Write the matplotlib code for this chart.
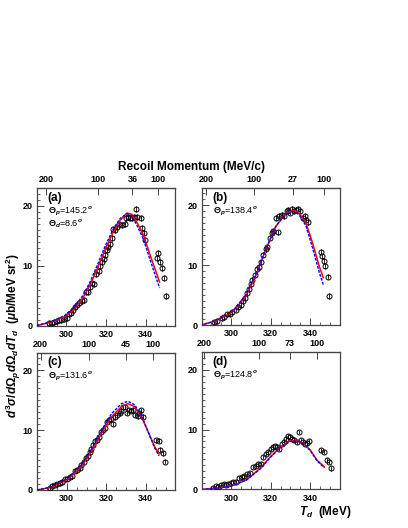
import matplotlib
matplotlib.use("Agg")
import matplotlib.pyplot as plt
from matplotlib.ticker import MultipleLocator

plt.rcParams['font.family'] = ['Liberation Sans', 'DejaVu Sans']
plt.rcParams['mathtext.fontset'] = 'custom'
plt.rcParams['mathtext.rm'] = 'Liberation Sans:bold'
plt.rcParams['mathtext.it'] = 'Liberation Sans:italic:bold'
plt.rcParams['mathtext.bf'] = 'Liberation Sans:bold'

# ---- data ----
# panel (a)
a_T = [291.4, 292.6, 293.9, 295.1, 296.3, 297.5, 299.0, 300.2, 301.5, 302.3, 303.5, 304.5,
       305.5, 306.5, 307.7, 308.9, 309.9, 310.8, 311.9, 312.9, 314.0, 315.0, 316.3, 317.0,
       318.0, 318.7, 319.7, 320.4, 321.0, 322.0, 323.0, 323.7, 324.7, 325.4, 326.6, 327.9,
       329.3, 330.1, 331.3, 332.1, 333.1, 334.2, 335.2, 335.8, 337.5, 338.2, 338.9, 339.7,
       345.6, 346.4, 347.3, 348.1, 349.0, 350.2]
a_xs = [0.4, 0.5, 0.7, 0.8, 0.9, 0.9, 1.1, 1.3, 1.9, 2.2, 2.6, 3.2,
        3.4, 3.8, 4.2, 4.3, 5.6, 5.7, 6.4, 7.2, 6.9, 8.6, 9.2, 10.0,
        10.6, 11.1, 11.8, 12.6, 13.2, 13.7, 14.7, 16.2, 15.9, 16.5, 16.9, 16.8,
        16.9, 17.9, 18.2, 18.0, 17.9, 18.2, 19.4, 18.2, 18.0, 16.3, 15.4, 14.3,
        11.3, 12.1, 10.6, 9.6, 7.9, 5.0]
a_curve_T = [285, 293.4, 299.0, 303.5, 308.6, 311.9, 315.3, 319.8, 323.7, 327.1, 330.5,
             333.0, 335.5, 338.9, 342.2, 347.0]
a_red = [0.0, 0.7, 1.5, 2.6, 4.8, 6.8, 9.3, 12.9, 15.7, 17.6, 18.8, 18.6, 17.3, 15.1, 11.8, 7.3]
a_blue = [0.05, 0.8, 1.7, 2.9, 5.2, 7.3, 9.9, 13.5, 16.2, 17.9, 18.7, 18.3, 16.8, 14.4, 11.0, 6.3]

# panel (b)
b_T = [291.3, 293.0, 295.2, 296.3, 298.0, 299.2, 300.6, 302.3, 303.6, 304.8, 306.0, 307.0,
       308.2, 309.0, 309.9, 310.7, 312.1, 313.3, 314.1, 315.0, 316.1, 317.5, 318.3, 319.5,
       320.5, 321.2, 322.6, 323.8, 324.3, 325.6, 326.8, 328.0, 329.0, 329.8, 330.7, 331.7,
       332.7, 333.7, 334.8, 336.4, 337.5, 338.1, 338.8, 345.2, 345.9, 346.8, 347.6, 348.8,
       349.6]
b_xs = [0.5, 0.7, 1.2, 1.4, 1.8, 1.9, 2.2, 2.6, 3.1, 3.4, 4.0, 4.6,
        5.4, 6.1, 6.8, 7.6, 8.4, 9.3, 9.7, 10.5, 11.8, 12.7, 13.1, 14.6,
        15.4, 15.7, 17.9, 15.5, 18.2, 18.4, 18.2, 19.0, 19.2, 18.8, 19.4, 19.0,
        19.3, 19.4, 19.0, 17.9, 18.3, 17.6, 17.2, 12.3, 11.5, 10.7, 9.8, 8.1,
        4.9]
b_curve_T = [284.5, 292.1, 300.6, 307.3, 312.4, 317.5, 322.6, 327.6, 331.9, 334.4, 337.8,
             341.2, 344.6, 346.6]
b_red = [0.0, 0.7, 2.2, 4.8, 8.2, 12.6, 16.5, 18.7, 19.2, 18.7, 17.1, 13.7, 9.8, 7.9]
b_blue = [0.0, 0.75, 2.3, 5.0, 8.4, 12.7, 16.5, 18.6, 19.0, 18.4, 16.6, 12.9, 8.8, 6.8]

# panel (c)
c_T = [291.4, 292.6, 293.9, 295.3, 296.5, 297.6, 299.0, 300.3, 301.7, 302.7, 304.1, 305.2,
       306.6, 307.4, 308.8, 309.6, 310.5, 311.6, 312.5, 313.5, 314.5, 315.5, 316.4, 317.2,
       318.4, 319.6, 320.6, 321.3, 322.3, 323.4, 324.3, 325.6, 326.8, 327.7, 328.7, 329.7,
       330.7, 331.5, 332.7, 333.7, 334.7, 335.8, 336.8, 337.8, 338.8, 345.4, 346.6, 347.4,
       348.6, 349.9]
c_xs = [0.4, 0.7, 0.9, 1.0, 1.1, 1.4, 1.8, 1.9, 2.1, 2.3, 3.2, 3.3,
        3.6, 4.2, 4.7, 5.3, 5.7, 6.3, 6.8, 7.5, 8.1, 8.4, 8.8, 9.6,
        10.0, 10.4, 11.4, 11.7, 11.9, 11.0, 12.1, 12.5, 12.8, 13.2, 13.8, 13.9,
        12.9, 13.3, 13.2, 13.4, 12.5, 12.3, 12.8, 13.3, 12.2, 8.3, 8.2, 6.7,
        6.1, 4.7]
c_curve_T = [285, 292.3, 300.7, 307.4, 312.5, 317.5, 322.6, 327.7, 331.0, 334.4, 337.8,
             341.2, 344.5, 346.7]
c_red = [0.0, 0.45, 1.8, 3.9, 6.4, 9.4, 12.2, 13.9, 14.4, 13.9, 12.2, 9.7, 7.2, 6.0]
c_blue = [0.0, 0.5, 2.0, 4.2, 6.8, 9.9, 12.7, 14.4, 14.8, 14.2, 12.4, 9.7, 7.0, 5.7]

# panel (d)
d_T = [290.9, 292.3, 293.5, 294.6, 296.3, 297.4, 298.5, 299.7, 301.1, 302.4, 304.1, 305.3,
       306.5, 308.2, 309.5, 311.2, 312.6, 313.8, 315.0, 316.3, 317.7, 318.8, 320.0, 321.0,
       322.2, 323.4, 324.4, 325.6, 326.8, 327.8, 329.0, 329.8, 330.8, 332.0, 333.2, 334.2,
       335.3, 336.3, 337.5, 338.3, 339.3, 345.4, 346.8, 348.5, 349.3, 350.5]
d_xs = [0.3, 0.6, 0.4, 0.7, 0.9, 0.7, 0.9, 1.0, 1.2, 1.3, 1.9, 2.0,
        2.2, 2.6, 2.8, 3.8, 3.9, 4.2, 4.3, 5.4, 5.9, 6.3, 6.7, 7.1,
        7.2, 7.1, 6.8, 7.6, 7.9, 8.5, 8.9, 8.8, 8.5, 8.2, 7.9, 9.6,
        8.2, 7.9, 7.6, 7.7, 8.1, 6.6, 6.3, 4.9, 4.6, 3.5]
d_curve_T = [285, 294.3, 301.1, 307.8, 314.6, 319.7, 324.8, 329.8, 333.2, 336.6, 340.0,
             343.4, 347.1]
d_red = [0.0, 0.3, 0.7, 1.6, 3.5, 5.4, 7.1, 8.1, 8.2, 7.7, 6.6, 4.9, 3.8]
d_blue = [0.0, 0.3, 0.7, 1.6, 3.4, 5.3, 7.0, 8.0, 8.1, 7.6, 6.5, 4.8, 3.6]

errs = [0.5, 0.45, 0.4, 0.35]
panel_tags = ['(a)', '(b)', '(c)', '(d)']
angle_texts = [[r'$\Theta_p$=145.2$^o$', r'$\Theta_d$=8.6$^o$'],
               [r'$\Theta_p$=138.4$^o$'],
               [r'$\Theta_p$=131.6$^o$'],
               [r'$\Theta_p$=124.8$^o$']]
# recoil momentum axis: positions in T_d and labels
top_pos = [[289.6, 316.1, 333.3, 346.4],
           [287.3, 311.5, 331.4, 346.9],
           [286.8, 311.3, 330.1, 343.5],
           [286.2, 314.1, 329.7, 343.2]]
top_labels = [['200', '100', '36', '100'],
              ['200', '100', '27', '100'],
              ['200', '100', '45', '100'],
              ['200', '100', '73', '100']]

data = [(a_T, a_xs, a_curve_T, a_red, a_blue),
        (b_T, b_xs, b_curve_T, b_red, b_blue),
        (c_T, c_xs, c_curve_T, c_red, c_blue),
        (d_T, d_xs, d_curve_T, d_red, d_blue)]

fig = plt.figure(figsize=(4.08, 5.28), dpi=100)
rects = [[0.090, 0.383, 0.340, 0.260],
         [0.494, 0.384, 0.339, 0.260],
         [0.091, 0.072, 0.339, 0.260],
         [0.494, 0.073, 0.339, 0.260]]

frame_col = '#444444'
for i, (T, xs, cT, red, blue) in enumerate(data):
    ax = fig.add_axes(rects[i])
    ax.errorbar(T, xs, yerr=errs[i], fmt='o', mfc='none', mec='black', ecolor='black',
                ms=3.6, mew=0.7, elinewidth=0.6, capsize=0, zorder=3)
    ax.plot(cT, red, color='red', lw=1.1, zorder=4)
    ax.plot(cT, blue, color='blue', lw=1.0, ls=(0, (2, 1)), zorder=4)
    ax.set_xlim(285, 355)
    ax.set_ylim(0, 22.9)
    ax.xaxis.set_major_locator(MultipleLocator(20))
    ax.xaxis.set_minor_locator(MultipleLocator(5))
    ax.yaxis.set_major_locator(MultipleLocator(10))
    ax.yaxis.set_minor_locator(MultipleLocator(1))
    ax.tick_params(which='both', direction='in', top=False, right=False,
                   labelsize=6.5, pad=3, color=frame_col)
    ax.tick_params(which='major', length=5, width=0.7)
    ax.tick_params(which='minor', length=2.5, width=0.6)
    for lab in ax.get_xticklabels() + ax.get_yticklabels():
        lab.set_fontweight('bold')
    for sp in ax.spines.values():
        sp.set_color(frame_col)
        sp.set_linewidth(0.9)

    sec = ax.secondary_xaxis('top')
    sec.set_xticks(top_pos[i])
    sec.set_xticklabels(top_labels[i], fontsize=6.5, fontweight='bold')
    sec.tick_params(direction='in', length=5, width=0.7, pad=3, color=frame_col)

    ax.text(0.075, 0.93, panel_tags[i], transform=ax.transAxes, fontsize=8.5,
            fontweight='bold', va='center', ha='left')
    for k, s in enumerate(angle_texts[i]):
        ax.text(0.08, 0.83 - 0.085 * k, s, transform=ax.transAxes, fontsize=6.5,
                va='center', ha='left')

fig.text(0.47, 0.684, 'Recoil Momentum (MeV/c)', ha='center', va='center',
         fontsize=8.5, fontweight='bold')
fig.text(0.033, 0.364, r'$d^3\sigma/d\Omega_p d\Omega_d dT_d$  ($\mu$b/MeV sr$^2$)',
         rotation=90, ha='center', va='center', fontsize=8.5, fontweight='bold')
fig.text(0.862, 0.045, r'$T_d$  (MeV)', ha='right', va='top', fontsize=8.5,
         fontweight='bold')

fig.savefig('out.png', dpi=100)
